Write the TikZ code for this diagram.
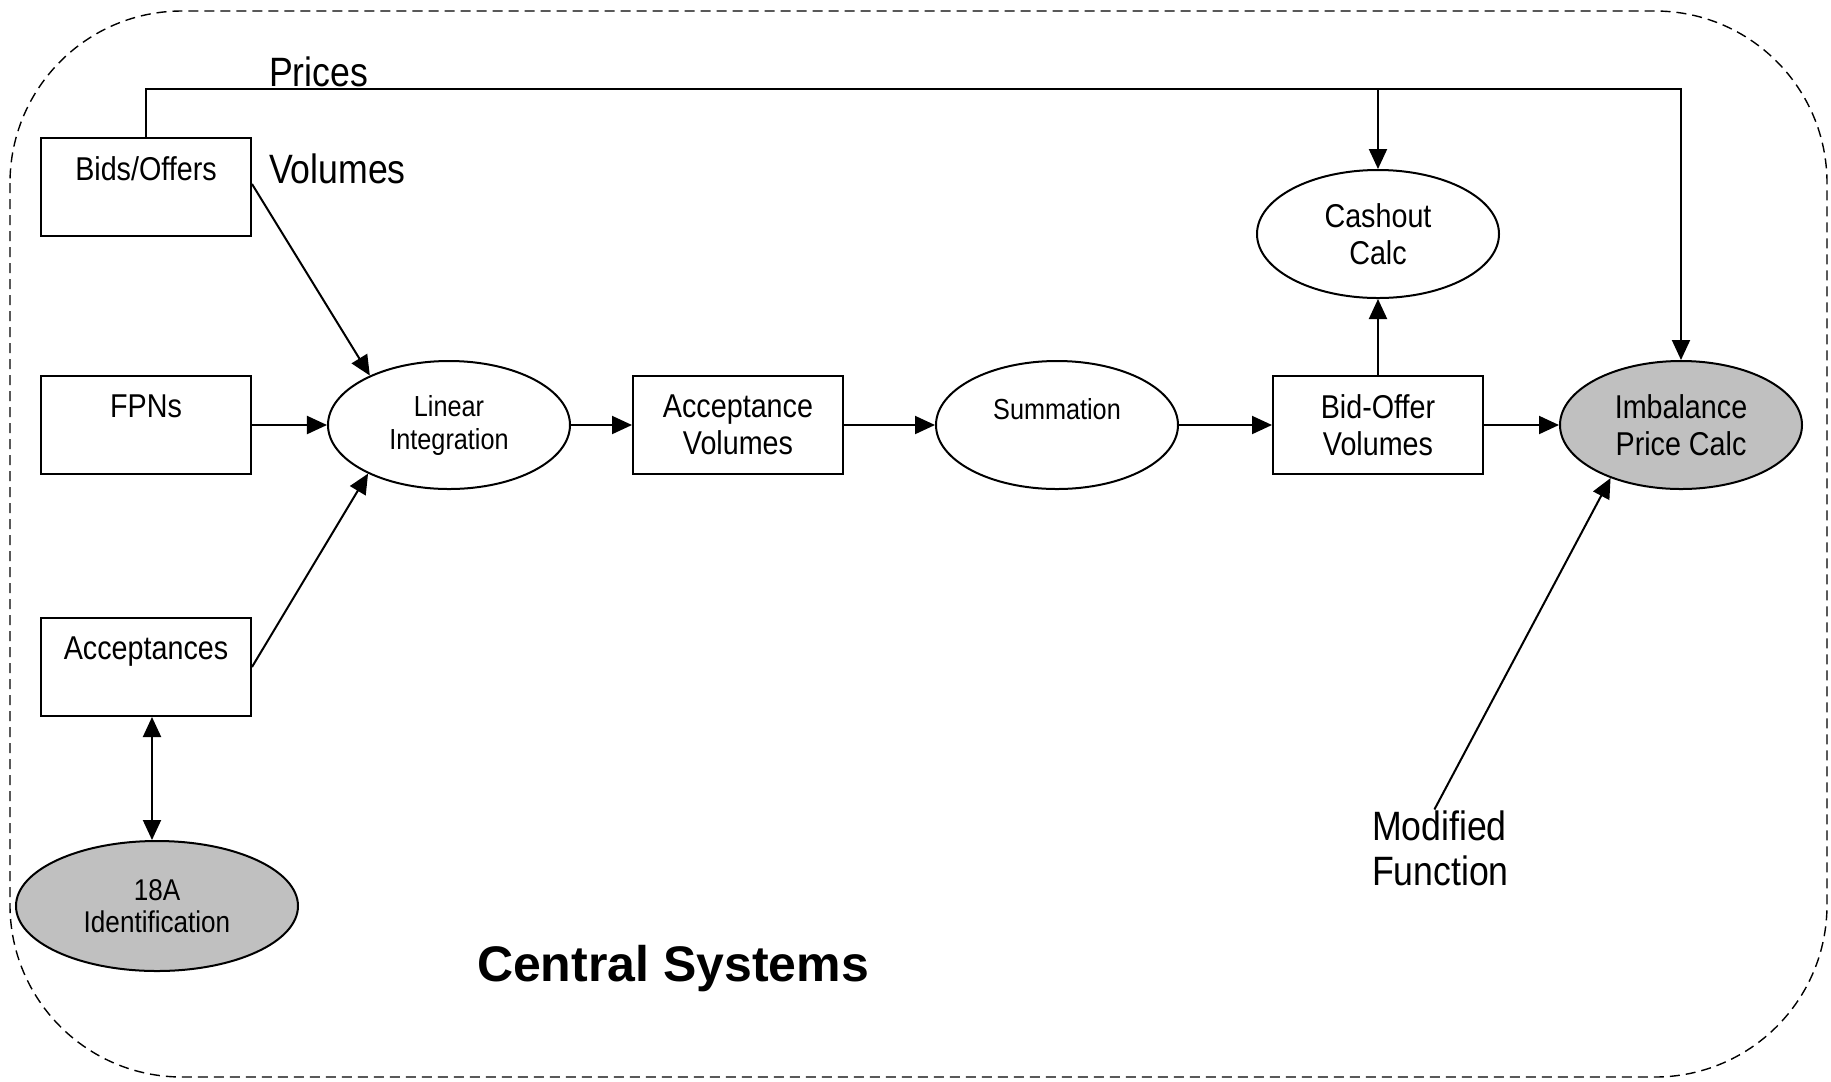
\documentclass[tikz,border=0pt]{standalone}
\usepackage{fontspec}
\setmainfont[FakeStretch=0.87]{Liberation Sans}
\newfontfamily\titlefont{Liberation Sans}
\usetikzlibrary{arrows.meta,shapes.geometric}

\definecolor{shadegray}{RGB}{192,192,192}

\tikzset{
  procbox/.style={draw, rectangle, minimum width=105bp, minimum height=49bp,
    inner sep=0pt, align=center, font=\fontsize{16.5bp}{18.5bp}\selectfont},
  procell/.style={draw, ellipse, minimum width=121bp, minimum height=64bp,
    inner sep=0pt, align=center, font=\fontsize{16.5bp}{18.5bp}\selectfont},
  smalltext/.style={font=\fontsize{14.5bp}{16.5bp}\selectfont},
  lbl/.style={font=\fontsize{20.5bp}{22.5bp}\selectfont, inner sep=0pt},
}

\begin{document}
\begin{tikzpicture}[x=0.5bp,y=-0.5bp,>={Triangle[length=10bp,width=9bp]},line join=miter]
  \pgfsetlinewidth{1bp}
  \useasboundingbox (0,0) rectangle (1831,1081);
  %% boundary
  \draw[line width=0.7bp, dash pattern=on 5bp off 3bp, rounded corners=86bp]
    (10,11) rectangle (1827,1077);
  % Node: bids
  \node[procbox] (bids) at (146,187) {Bids/Offers\\ \mbox{}};
  % Node: fpn
  \node[procbox] (fpn) at (146,425) {FPNs\\ \mbox{}};
  % Node: acc
  \node[procbox] (acc) at (146,667) {Acceptances\\ \mbox{}};
  % Node: id
  \node[procell, fill=shadegray, minimum width=141bp, minimum height=65bp,
    font=\fontsize{15bp}{16bp}\selectfont] (id) at (157,906) {18A\\Identification};
  % Node: lin
  \node[procell, smalltext] (lin) at (449,425) {Linear\\Integration};
  % Node: av
  \node[procbox] (av) at (738,425) {Acceptance\\Volumes};
  % Node: sum
  \node[procell, smalltext] (sum) at (1057,425) {Summation\\ \mbox{}};
  % Node: bo
  \node[procbox] (bo) at (1378,425) {Bid-Offer\\Volumes};
  % Node: cash
  \node[procell] (cash) at (1378,234) {Cashout\\Calc};
  % Node: imb
  \node[procell, fill=shadegray] (imb) at (1681,425) {Imbalance\\Price Calc};
  % Labels
  \node[lbl, anchor=west] (prices) at (268,72) {Prices};
  \node[lbl, anchor=west] (volumes) at (268,169) {Volumes};
  \node[lbl, anchor=west, align=left] (mod) at (1371,848) {Modified\\Function};
  \node[font=\titlefont\bfseries\fontsize{25bp}{30bp}\selectfont] (title) at (673,969) {Central Systems};
  % Edge: bids -> imb (prices)
  \draw[->] (bids.north) -- (bids.north |- 0,89) -| (imb.north);
  % Edge: prices -> cash
  \draw[->] (cash.north |- 0,89) -- (cash.north);
  % Edge: bids -> lin
  \draw[->] (bids.east |- 0,184) -- (lin.148);
  % Edge: fpn -> lin
  \draw[->] (fpn.east) -- (lin.west);
  % Edge: acc -> lin
  \draw[->] (acc.east) -- (lin.211);
  % Edge: acc <-> id
  \draw[<->] (acc.south -| 152,0) -- (id.north -| 152,0);
  % Edge: lin -> av
  \draw[->] (lin.east) -- (av.west);
  % Edge: av -> sum
  \draw[->] (av.east) -- (sum.west);
  % Edge: sum -> bo
  \draw[->] (sum.east) -- (bo.west);
  % Edge: bo -> cash
  \draw[->] (bo.north) -- (cash.south);
  % Edge: bo -> imb
  \draw[->] (bo.east) -- (imb.west);
  % Edge: mod -> imb
  \draw[->] ([xshift=-3bp]mod.north) -- (imb.217);
\end{tikzpicture}
\end{document}
